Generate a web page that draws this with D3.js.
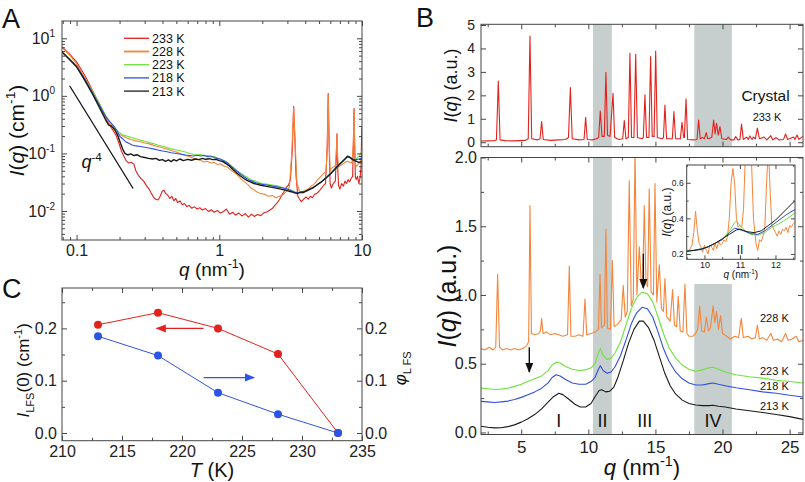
<!DOCTYPE html>
<html><head><meta charset="utf-8">
<script src="https://cdn.jsdelivr.net/npm/d3@7"></script>
<style>body{margin:0;background:#fff}svg{display:block}text{font-family:"Liberation Sans",Arial,sans-serif}</style>
</head><body><script>
// ---------- DATA ----------
const labelsT = ['233 K','228 K','223 K','218 K','213 K'];
const colorsT = ['#e4221c','#f5853a','#6ee23c','#2f4fe0','#1a1a1a'];

// Panel A: SAXS log-log curves [q (nm^-1), I (cm^-1)]
const a233 = [[0.0788,7.2],[0.09,5.2],[0.1,3.9],[0.115,2.2],[0.13,1.2],[0.145,0.7],[0.16,0.4],[0.172,0.3],[0.182,0.24],[0.19,0.2],[0.198,0.15],[0.206,0.11],[0.214,0.09],[0.222,0.075],[0.232,0.068],[0.242,0.07],[0.252,0.065],[0.26,0.05],[0.27,0.042],[0.282,0.037],[0.295,0.033],[0.31,0.027],[0.322,0.024],[0.335,0.02],[0.348,0.017],[0.36,0.016],[0.372,0.0155],[0.385,0.018],[0.398,0.022],[0.41,0.023],[0.422,0.02],[0.435,0.019],[0.45,0.0165],[0.465,0.018],[0.48,0.015],[0.495,0.0165],[0.51,0.014],[0.53,0.015],[0.55,0.0128],[0.57,0.0135],[0.59,0.012],[0.615,0.0125],[0.64,0.0112],[0.67,0.0118],[0.7,0.0108],[0.73,0.0114],[0.76,0.0104],[0.8,0.011],[0.84,0.0098],[0.88,0.0105],[0.92,0.0095],[0.97,0.0102],[1.02,0.0092],[1.07,0.0098],[1.12,0.0108],[1.18,0.0088],[1.24,0.0095],[1.3,0.0085],[1.37,0.0092],[1.44,0.0082],[1.52,0.009],[1.6,0.0078],[1.68,0.0088],[1.76,0.008],[1.85,0.0087],[1.95,0.0083],[2.05,0.0093],[2.15,0.0096],[2.25,0.0103],[2.35,0.011],[2.45,0.0125],[2.55,0.014],[2.65,0.016],[2.75,0.019],[2.85,0.022],[2.95,0.026],[3.05,0.028],[3.15,0.035],[3.25,0.12],[3.32,0.65],[3.38,0.2],[3.45,0.04],[3.55,0.018],[3.65,0.016],[3.75,0.0145],[3.9,0.016],[4.05,0.0175],[4.2,0.016],[4.35,0.018],[4.5,0.017],[4.65,0.0195],[4.8,0.02],[5.0,0.022],[5.2,0.025],[5.4,0.028],[5.55,0.03],[5.7,0.12],[5.8,1.1],[5.88,0.15],[5.98,0.03],[6.1,0.025],[6.3,0.03],[6.5,0.033],[6.6,0.08],[6.67,0.22],[6.75,0.06],[6.85,0.028],[7.0,0.024],[7.2,0.03],[7.4,0.027],[7.6,0.033],[7.8,0.03],[8.0,0.035],[8.2,0.032],[8.4,0.037],[8.6,0.04],[8.72,0.2],[8.8,0.6],[8.88,0.15],[8.98,0.04],[9.1,0.035],[9.3,0.04],[9.5,0.03],[9.7,0.038],[9.85,0.06],[9.95,0.25],[10,0.29]];
const a228 = [[0.0788,7.0],[0.09,5.0],[0.1,3.6],[0.115,2.0],[0.13,1.15],[0.145,0.72],[0.16,0.42],[0.17,0.33],[0.182,0.26],[0.195,0.22],[0.21,0.2],[0.225,0.185],[0.24,0.175],[0.26,0.165],[0.28,0.16],[0.3,0.152],[0.32,0.148],[0.345,0.138],[0.37,0.132],[0.4,0.125],[0.43,0.118],[0.46,0.112],[0.5,0.106],[0.54,0.098],[0.58,0.092],[0.62,0.088],[0.66,0.082],[0.7,0.079],[0.74,0.076],[0.78,0.071],[0.82,0.073],[0.87,0.068],[0.92,0.07],[0.97,0.064],[1.02,0.066],[1.08,0.06],[1.14,0.058],[1.2,0.052],[1.27,0.047],[1.34,0.042],[1.42,0.036],[1.5,0.032],[1.58,0.029],[1.67,0.025],[1.76,0.023],[1.86,0.021],[1.96,0.02],[2.08,0.0195],[2.2,0.018],[2.35,0.0185],[2.5,0.017],[2.65,0.0182],[2.8,0.019],[2.95,0.022],[3.1,0.026],[3.22,0.1],[3.32,0.62],[3.4,0.15],[3.5,0.03],[3.65,0.022],[3.8,0.021],[4.0,0.023],[4.2,0.024],[4.4,0.027],[4.6,0.029],[4.8,0.033],[5.0,0.037],[5.2,0.041],[5.4,0.045],[5.6,0.048],[5.72,0.15],[5.8,1.05],[5.88,0.18],[5.98,0.05],[6.1,0.055],[6.3,0.058],[6.5,0.06],[6.6,0.1],[6.67,0.21],[6.75,0.09],[6.85,0.058],[7.0,0.06],[7.3,0.065],[7.6,0.07],[7.9,0.073],[8.2,0.07],[8.5,0.068],[8.7,0.15],[8.8,0.58],[8.88,0.15],[8.98,0.065],[9.2,0.06],[9.5,0.068],[9.8,0.075],[10,0.085]];
const a223 = [[0.0788,6.0],[0.09,4.3],[0.1,3.2],[0.115,1.9],[0.13,1.15],[0.145,0.72],[0.16,0.45],[0.17,0.36],[0.182,0.29],[0.195,0.24],[0.21,0.21],[0.225,0.2],[0.24,0.19],[0.26,0.18],[0.28,0.17],[0.3,0.163],[0.32,0.155],[0.345,0.148],[0.37,0.14],[0.4,0.133],[0.43,0.126],[0.46,0.12],[0.5,0.115],[0.54,0.11],[0.58,0.106],[0.62,0.1],[0.66,0.097],[0.7,0.094],[0.74,0.096],[0.78,0.09],[0.82,0.092],[0.87,0.087],[0.92,0.088],[0.97,0.083],[1.02,0.08],[1.08,0.075],[1.14,0.07],[1.2,0.062],[1.27,0.056],[1.34,0.05],[1.42,0.045],[1.5,0.041],[1.6,0.037],[1.7,0.034],[1.8,0.033],[1.9,0.031],[2.0,0.03],[2.2,0.029],[2.4,0.028],[2.6,0.027],[2.8,0.025],[3.0,0.024],[3.2,0.023],[3.4,0.0215],[3.6,0.021],[3.8,0.022],[4.0,0.022],[4.3,0.024],[4.6,0.026],[4.9,0.029],[5.2,0.032],[5.5,0.036],[5.8,0.041],[6.1,0.046],[6.5,0.054],[6.9,0.063],[7.3,0.072],[7.7,0.082],[8.0,0.088],[8.3,0.084],[8.7,0.078],[9.1,0.08],[9.5,0.09],[10,0.11]];
const a218 = [[0.0788,5.8],[0.09,4.2],[0.1,3.3],[0.115,1.9],[0.13,1.1],[0.145,0.68],[0.16,0.44],[0.17,0.36],[0.182,0.3],[0.192,0.25],[0.2,0.2],[0.21,0.18],[0.22,0.16],[0.232,0.15],[0.245,0.14],[0.26,0.135],[0.28,0.132],[0.3,0.128],[0.32,0.124],[0.345,0.12],[0.37,0.115],[0.4,0.11],[0.43,0.107],[0.46,0.103],[0.5,0.1],[0.54,0.097],[0.58,0.094],[0.62,0.092],[0.66,0.09],[0.7,0.093],[0.74,0.09],[0.78,0.093],[0.82,0.088],[0.87,0.09],[0.92,0.085],[0.97,0.082],[1.02,0.079],[1.08,0.074],[1.14,0.068],[1.2,0.061],[1.27,0.054],[1.34,0.048],[1.42,0.043],[1.5,0.039],[1.6,0.035],[1.7,0.033],[1.8,0.031],[1.9,0.03],[2.0,0.029],[2.2,0.028],[2.4,0.027],[2.6,0.026],[2.8,0.025],[3.0,0.024],[3.2,0.0225],[3.4,0.021],[3.6,0.021],[3.8,0.0215],[4.0,0.022],[4.3,0.024],[4.6,0.026],[4.9,0.029],[5.2,0.032],[5.5,0.036],[5.8,0.041],[6.1,0.046],[6.5,0.055],[6.9,0.064],[7.3,0.073],[7.7,0.083],[8.0,0.09],[8.3,0.085],[8.7,0.078],[9.1,0.078],[9.5,0.08],[10,0.082]];
const a213 = [[0.0788,5.8],[0.09,4.2],[0.1,3.2],[0.115,1.8],[0.13,1.05],[0.145,0.62],[0.16,0.38],[0.168,0.31],[0.175,0.3],[0.185,0.26],[0.195,0.2],[0.203,0.15],[0.21,0.12],[0.218,0.1],[0.228,0.094],[0.24,0.098],[0.252,0.092],[0.265,0.095],[0.28,0.088],[0.3,0.085],[0.32,0.082],[0.34,0.08],[0.36,0.082],[0.38,0.076],[0.4,0.078],[0.42,0.073],[0.44,0.077],[0.46,0.072],[0.48,0.078],[0.5,0.074],[0.53,0.08],[0.56,0.075],[0.6,0.079],[0.64,0.076],[0.68,0.08],[0.72,0.078],[0.76,0.082],[0.8,0.079],[0.85,0.081],[0.9,0.078],[0.95,0.079],[1.0,0.075],[1.06,0.072],[1.12,0.066],[1.18,0.06],[1.25,0.052],[1.32,0.046],[1.4,0.041],[1.48,0.037],[1.56,0.034],[1.65,0.032],[1.75,0.03],[1.85,0.029],[1.95,0.028],[2.1,0.027],[2.3,0.026],[2.5,0.025],[2.7,0.024],[2.9,0.023],[3.1,0.022],[3.3,0.021],[3.5,0.02],[3.7,0.021],[3.9,0.021],[4.2,0.023],[4.5,0.025],[4.8,0.028],[5.1,0.031],[5.4,0.035],[5.7,0.039],[6.0,0.044],[6.4,0.052],[6.8,0.061],[7.2,0.07],[7.6,0.08],[7.9,0.089],[8.2,0.085],[8.6,0.078],[9.0,0.074],[9.5,0.07],[10,0.072]];
const guideQ = [0.0893, 0.249];
const guideI = [1.5, 0.0246];

// Panel B top: crystal at 233 K
const crystal233 = [[2,0.05],[2.5,0.06],[3.0,0.07],[3.15,0.1],[3.29,2.61],[3.42,0.1],[3.8,0.07],[4.3,0.06],[4.8,0.07],[5.3,0.08],[5.52,0.15],[5.65,4.53],[5.78,0.15],[6.2,0.1],[6.4,0.15],[6.52,0.88],[6.64,0.12],[7.2,0.08],[7.8,0.1],[8.3,0.12],[8.52,0.2],[8.66,2.33],[8.8,0.15],[9.3,0.1],[9.68,0.12],[9.8,1.06],[9.92,0.12],[10.3,0.1],[10.6,0.15],[10.77,0.2],[10.89,1.33],[11.02,0.25],[11.19,0.25],[11.31,2.98],[11.43,0.3],[11.62,0.25],[11.84,2.09],[11.96,0.2],[12.3,0.12],[12.56,0.15],[12.68,0.92],[12.8,0.15],[12.98,0.2],[13.1,3.79],[13.22,0.2],[13.4,0.2],[13.53,3.75],[13.66,0.2],[14.0,0.15],[14.1,0.2],[14.22,2.02],[14.34,0.2],[14.52,0.2],[14.64,3.65],[14.76,0.25],[14.9,0.25],[15.02,3.89],[15.14,0.2],[15.5,0.15],[15.6,0.2],[15.71,1.59],[15.83,0.15],[16.26,0.15],[16.38,1.31],[16.5,0.15],[16.86,0.15],[16.98,0.85],[17.1,0.2],[17.16,0.2],[17.28,1.85],[17.4,0.12],[17.8,0.1],[18.1,0.12],[18.22,0.95],[18.34,0.15],[18.5,0.2],[18.65,0.15],[18.79,0.41],[18.9,0.15],[19.2,0.2],[19.34,0.95],[19.45,0.35],[19.56,0.81],[19.68,0.3],[19.81,0.67],[19.95,0.15],[20.3,0.12],[20.43,0.22],[20.6,0.1],[20.85,0.1],[20.98,0.24],[21.15,0.1],[21.3,0.12],[21.42,0.78],[21.55,0.12],[21.8,0.22],[21.92,0.12],[22.04,0.27],[22.2,0.12],[22.3,0.22],[22.45,0.15],[22.6,0.6],[22.75,0.15],[23.1,0.22],[23.3,0.1],[23.6,0.28],[23.75,0.1],[24.0,0.2],[24.2,0.1],[24.55,0.12],[24.7,0.35],[24.85,0.12],[25.3,0.22],[25.4,0.12],[25.55,0.31],[25.7,0.12],[26,0.25]];

// Panel B bottom: liquid / supercooled curves
const b228 = [[2,0.61],[2.3,0.6],[2.6,0.62],[2.9,0.6],[3.1,0.62],[3.24,1.15],[3.38,0.62],[3.6,0.6],[3.9,0.61],[4.2,0.6],[4.5,0.61],[4.8,0.6],[5.1,0.61],[5.4,0.63],[5.55,0.66],[5.65,1.65],[5.76,0.72],[6.0,0.71],[6.3,0.72],[6.43,0.74],[6.52,0.83],[6.62,0.72],[6.9,0.73],[7.2,0.71],[7.5,0.72],[7.8,0.71],[8.1,0.7],[8.45,0.71],[8.58,1.21],[8.7,0.7],[9.0,0.7],[9.3,0.71],[9.6,0.7],[9.75,0.97],[9.88,0.71],[10.2,0.72],[10.5,0.73],[10.75,0.75],[10.87,1.15],[10.98,0.76],[11.2,0.78],[11.31,1.48],[11.42,0.76],[11.65,0.75],[11.79,1.25],[11.92,0.77],[12.2,0.79],[12.45,0.82],[12.6,1.07],[12.75,0.84],[12.9,0.88],[13.05,1.83],[13.2,0.92],[13.35,0.97],[13.48,2.05],[13.62,1.0],[13.8,1.35],[13.95,1.08],[14.05,1.1],[14.17,1.65],[14.3,1.08],[14.42,1.06],[14.54,1.77],[14.68,1.02],[14.85,1.0],[14.97,1.81],[15.1,0.95],[15.29,1.22],[15.45,0.9],[15.6,0.88],[15.71,1.12],[15.85,0.84],[16.1,0.81],[16.28,1.04],[16.42,0.78],[16.58,0.77],[16.7,0.99],[16.85,0.74],[17.05,0.73],[17.2,1.08],[17.35,0.72],[17.5,0.7],[17.8,0.7],[18.0,0.72],[18.15,0.75],[18.3,0.92],[18.45,0.74],[18.65,0.73],[18.8,0.84],[18.95,0.74],[19.1,0.76],[19.3,0.92],[19.42,0.8],[19.56,0.88],[19.7,0.75],[19.86,0.85],[20.0,0.72],[20.3,0.7],[20.6,0.68],[20.9,0.7],[21.2,0.69],[21.4,0.83],[21.55,0.69],[21.9,0.7],[22.2,0.68],[22.45,0.69],[22.6,0.78],[22.75,0.68],[23.0,0.69],[23.3,0.67],[23.6,0.72],[23.8,0.67],[24.1,0.68],[24.4,0.66],[24.7,0.72],[24.9,0.67],[25.2,0.68],[25.5,0.7],[25.7,0.66],[26,0.67]];
const b223 = [[2,0.322],[2.5,0.318],[3,0.312],[3.5,0.315],[4,0.322],[4.5,0.335],[5,0.35],[5.5,0.37],[6,0.39],[6.5,0.41],[7,0.45],[7.3,0.49],[7.6,0.51],[7.9,0.505],[8.3,0.48],[8.8,0.46],[9.3,0.45],[9.8,0.455],[10.2,0.47],[10.5,0.5],[10.75,0.58],[10.9,0.61],[11.1,0.56],[11.4,0.53],[11.7,0.54],[12,0.58],[12.4,0.66],[12.8,0.78],[13.2,0.9],[13.6,0.98],[14,1.02],[14.4,1.01],[14.8,0.95],[15.2,0.84],[15.6,0.72],[16,0.62],[16.5,0.54],[17,0.49],[17.5,0.46],[18,0.445],[18.5,0.455],[19,0.47],[19.3,0.475],[19.7,0.46],[20.2,0.44],[21,0.42],[22,0.405],[23,0.395],[24,0.38],[25,0.37],[26,0.36]];
const b218 = [[2,0.226],[2.5,0.222],[3,0.218],[3.5,0.222],[4,0.228],[4.5,0.24],[5,0.255],[5.5,0.275],[6,0.295],[6.5,0.32],[7,0.36],[7.3,0.4],[7.6,0.42],[7.9,0.41],[8.3,0.385],[8.8,0.36],[9.3,0.35],[9.8,0.35],[10.2,0.37],[10.5,0.4],[10.75,0.46],[10.9,0.485],[11.1,0.45],[11.4,0.43],[11.7,0.44],[12,0.48],[12.4,0.56],[12.8,0.67],[13.2,0.79],[13.6,0.87],[14,0.91],[14.4,0.9],[14.8,0.84],[15.2,0.73],[15.6,0.61],[16,0.52],[16.5,0.44],[17,0.39],[17.5,0.36],[18,0.345],[18.5,0.345],[19,0.355],[19.3,0.36],[19.7,0.35],[20.2,0.34],[21,0.325],[22,0.31],[23,0.295],[24,0.285],[25,0.27],[26,0.258]];
const b213 = [[2,0.045],[2.5,0.038],[3,0.033],[3.5,0.034],[4,0.042],[4.5,0.055],[5,0.075],[5.5,0.1],[6,0.13],[6.5,0.17],[7,0.22],[7.4,0.26],[7.8,0.285],[8.1,0.275],[8.5,0.245],[9,0.205],[9.4,0.185],[9.8,0.185],[10.2,0.21],[10.5,0.26],[10.8,0.305],[11.0,0.31],[11.3,0.295],[11.6,0.3],[11.9,0.33],[12.2,0.4],[12.6,0.52],[13,0.65],[13.4,0.75],[13.8,0.81],[14.1,0.81],[14.5,0.76],[14.9,0.67],[15.3,0.55],[15.7,0.43],[16.1,0.34],[16.5,0.28],[17,0.235],[17.5,0.21],[18,0.2],[18.5,0.195],[19,0.195],[19.3,0.198],[19.7,0.19],[20.2,0.185],[21,0.17],[22,0.158],[23,0.145],[24,0.13],[25,0.115],[26,0.095]];
const bandsQ = [[10.35, 11.75], [17.9, 20.7]];
const bandTopIV = 1.08;
const romanLabels = ['I','II','III','IV'];
const romanQ = [7.8, 11.05, 14.2, 19.3];
const curveLabelY = [[228, 0.8], [223, 0.42], [218, 0.31], [213, 0.16]];
const arrowsB = [[5.6, 0.62, 0.44], [14.1, 1.3, 1.05]];

// Inset (q 9.5-12.55)
const i228 = [[9.5,0.22],[9.55,0.215],[9.6,0.23],[9.65,0.25],[9.7,0.32],[9.75,0.44],[9.8,0.33],[9.85,0.26],[9.9,0.24],[9.95,0.21],[10.0,0.25],[10.05,0.22],[10.1,0.2],[10.15,0.25],[10.2,0.24],[10.25,0.22],[10.3,0.26],[10.35,0.23],[10.4,0.27],[10.45,0.25],[10.5,0.26],[10.55,0.28],[10.6,0.27],[10.65,0.3],[10.7,0.4],[10.75,0.6],[10.8,0.68],[10.85,0.6],[10.9,0.4],[10.95,0.35],[11.0,0.36],[11.05,0.35],[11.1,0.45],[11.15,0.75],[11.25,0.8],[11.32,0.75],[11.38,0.4],[11.45,0.26],[11.5,0.22],[11.55,0.28],[11.6,0.27],[11.65,0.3],[11.7,0.35],[11.75,0.6],[11.8,0.8],[11.85,0.55],[11.9,0.36],[11.95,0.34],[12.0,0.32],[12.05,0.3],[12.1,0.33],[12.15,0.31],[12.2,0.34],[12.25,0.33],[12.3,0.35],[12.35,0.32],[12.4,0.36],[12.45,0.35],[12.5,0.37],[12.55,0.38]];
const i223 = [[9.5,0.22],[9.7,0.22],[9.9,0.23],[10.1,0.24],[10.3,0.26],[10.5,0.28],[10.7,0.33],[10.85,0.375],[10.9,0.385],[11.0,0.36],[11.15,0.33],[11.3,0.31],[11.5,0.305],[11.7,0.32],[11.9,0.35],[12.1,0.37],[12.3,0.395],[12.55,0.43]];
const i218 = [[9.5,0.215],[9.7,0.22],[9.9,0.228],[10.1,0.24],[10.3,0.26],[10.5,0.28],[10.7,0.32],[10.85,0.345],[10.95,0.34],[11.1,0.33],[11.3,0.315],[11.5,0.31],[11.7,0.33],[11.9,0.36],[12.1,0.39],[12.3,0.42],[12.55,0.45]];
const i213 = [[9.5,0.215],[9.7,0.22],[9.9,0.225],[10.1,0.24],[10.3,0.26],[10.5,0.285],[10.7,0.31],[10.9,0.335],[11.0,0.34],[11.2,0.325],[11.4,0.32],[11.6,0.33],[11.8,0.36],[12.0,0.39],[12.2,0.43],[12.4,0.47],[12.55,0.5]];

// Panel C
const tempC = [213, 218, 223, 228, 233];
const iLFS = [0.207, 0.23, 0.2, 0.151, 0.0];
const phiLFS = [0.185, 0.148, 0.077, 0.036, 0.0];

// ---------- DRAW ----------
const FONT = '"Liberation Sans", Arial, sans-serif';
const svg = d3.select('body').append('svg').attr('width', 805).attr('height', 482);
const defs = svg.append('defs');
function marker(id, color) {
  defs.append('marker').attr('id', id).attr('viewBox', '0 0 10 10').attr('refX', 9).attr('refY', 5)
    .attr('markerWidth', 10).attr('markerHeight', 10).attr('markerUnits', 'userSpaceOnUse').attr('orient', 'auto')
    .append('path').attr('d', 'M0,1 L10,5 L0,9 Z').attr('fill', color);
}
marker('ahK', '#111'); marker('ahR', '#e4221c'); marker('ahB', '#2c55e8');

function rich(t, parts, fs) {
  let shift = 0;
  parts.forEach(p => {
    const target = p.sup ? -0.42 * fs : p.sub ? 0.28 * fs : 0;
    const ts = t.append('tspan').text(p.t).attr('dy', target - shift);
    shift = target;
    if (p.sup || p.sub) ts.attr('font-size', fs * 0.65);
    if (p.i) ts.attr('font-style', 'italic');
  });
  return t;
}
function axis(g, type, scale, values, size, showLabels, fmt, fs, pad) {
  const gen = {bottom: d3.axisBottom, top: d3.axisTop, left: d3.axisLeft, right: d3.axisRight}[type](scale)
    .tickValues(values).tickSizeInner(-size).tickSizeOuter(0).tickPadding(pad)
    .tickFormat(showLabels ? fmt : () => '');
  g.call(gen);
  g.attr('font-family', FONT);
  g.select('.domain').remove();
  g.selectAll('.tick line').attr('stroke', '#333').attr('stroke-width', 0.9);
  g.selectAll('.tick text').attr('font-size', fs).attr('fill', '#222');
  return g;
}
function frame(x0, x1, y0, y1) {
  svg.append('rect').attr('x', x0).attr('y', y0).attr('width', x1 - x0).attr('height', y1 - y0)
    .attr('fill', 'none').attr('stroke', '#444').attr('stroke-width', 1);
}
function clip(id, x0, x1, y0, y1) {
  defs.append('clipPath').attr('id', id).append('rect').attr('x', x0).attr('y', y0).attr('width', x1 - x0).attr('height', y1 - y0);
}

// ===== Panel A =====
const A = {l: 62, r: 362, t: 21, b: 240};
const xA = d3.scaleLog().domain([0.079, 10]).range([A.l, A.r]);
const yA = d3.scaleLog().domain([0.00313, 20]).range([A.b, A.t]);
clip('clipA', A.l, A.r, A.t, A.b);
const xAmaj = [0.1, 1, 10];
const xAmin = [0.08, 0.09, 0.2, 0.3, 0.4, 0.5, 0.6, 0.7, 0.8, 0.9, 2, 3, 4, 5, 6, 7, 8, 9];
const yAmaj = [0.01, 0.1, 1, 10];
const yAmin = [0.004, 0.005, 0.006, 0.007, 0.008, 0.009, 0.02, 0.03, 0.04, 0.05, 0.06, 0.07, 0.08, 0.09, 0.2, 0.3, 0.4, 0.5, 0.6, 0.7, 0.8, 0.9, 2, 3, 4, 5, 6, 7, 8, 9];
const lineA = d3.line().x(d => xA(d[0])).y(d => yA(d[1]));
const gA = svg.append('g').attr('clip-path', 'url(#clipA)');
[a233, a228, a223, a218, a213].forEach((s, i) => {
  gA.append('path').datum(s).attr('d', lineA).attr('fill', 'none').attr('stroke', colorsT[i])
    .attr('stroke-width', i === 4 ? 1.4 : 1.1).attr('stroke-linejoin', 'round');
});
svg.append('path').datum(guideQ.map((q, i) => [q, guideI[i]])).attr('d', lineA)
  .attr('stroke', '#111').attr('stroke-width', 1.3).attr('fill', 'none');
rich(svg.append('text').attr('x', xA(0.108)).attr('y', yA(0.055)).attr('font-size', 18).attr('fill', '#111'),
  [{t: 'q', i: true}, {t: '-4', sup: true}], 18);
axis(svg.append('g').attr('transform', `translate(0,${A.b})`), 'bottom', xA, xAmaj, 5, true, d => d3.format('')(d), 16, 5);
axis(svg.append('g').attr('transform', `translate(0,${A.b})`), 'bottom', xA, xAmin, 3, false, null, 16, 5);
axis(svg.append('g').attr('transform', `translate(0,${A.t})`), 'top', xA, xAmaj, 5, false, null, 16, 6);
axis(svg.append('g').attr('transform', `translate(0,${A.t})`), 'top', xA, xAmin, 3, false, null, 16, 6);
const gyA = axis(svg.append('g').attr('transform', `translate(${A.l},0)`), 'left', yA, yAmaj, 5, true, () => '10', 16, 7);
gyA.selectAll('.tick text').each(function(d) {
  d3.select(this).append('tspan').attr('dy', -7).attr('font-size', 10).text(Math.round(Math.log10(d)));
});
axis(svg.append('g').attr('transform', `translate(${A.l},0)`), 'left', yA, yAmin, 3, false, null, 16, 6);
axis(svg.append('g').attr('transform', `translate(${A.r},0)`), 'right', yA, yAmaj, 5, false, null, 16, 6);
axis(svg.append('g').attr('transform', `translate(${A.r},0)`), 'right', yA, yAmin, 3, false, null, 16, 6);
frame(A.l, A.r, A.t, A.b);
// legend
const legA = svg.append('g');
labelsT.forEach((lab, i) => {
  const y = 38.3 + i * 13.2;
  legA.append('line').attr('x1', 124).attr('x2', 149).attr('y1', y).attr('y2', y)
    .attr('stroke', colorsT[i]).attr('stroke-width', i === 1 ? 1.8 : 1.3);
  legA.append('text').attr('x', 152).attr('y', y + 4.5).attr('font-size', 12.5).attr('fill', '#111').text(lab);
});
rich(svg.append('text').attr('x', (A.l + A.r) / 2).attr('y', 276).attr('text-anchor', 'middle').attr('font-size', 19).attr('fill', '#111'),
  [{t: 'q', i: true}, {t: ' (nm'}, {t: '-1', sup: true}, {t: ')'}], 19);
rich(svg.append('text').attr('transform', `translate(24,${(A.t + A.b) / 2}) rotate(-90)`).attr('text-anchor', 'middle').attr('font-size', 21).attr('fill', '#111'),
  [{t: 'I', i: true}, {t: '('}, {t: 'q', i: true}, {t: ') (cm'}, {t: '-1', sup: true}, {t: ')'}], 21);
svg.append('text').attr('x', 2).attr('y', 28).attr('font-size', 27).attr('fill', '#111').text('A');

// ===== Panel C =====
const C = {l: 62, r: 362, t: 288, b: 440.7};
const xC = d3.scaleLinear().domain([210, 235]).range([C.l, C.r]);
const yC = d3.scaleLinear().domain([-0.0147, 0.2772]).range([C.b, C.t]);
const yC2 = d3.scaleLinear().domain([-0.0147, 0.2772]).range([C.b, C.t]);
const xCmaj = [210, 215, 220, 225, 230, 235], xCmin = [212.5, 217.5, 222.5, 227.5, 232.5];
const yCmaj = [0, 0.1, 0.2], yCmin = [0.05, 0.15, 0.25];
axis(svg.append('g').attr('transform', `translate(0,${C.b})`), 'bottom', xC, xCmaj, 5, true, d3.format('d'), 16, 5);
axis(svg.append('g').attr('transform', `translate(0,${C.b})`), 'bottom', xC, xCmin, 3, false, null, 16, 5);
axis(svg.append('g').attr('transform', `translate(0,${C.t})`), 'top', xC, xCmaj, 5, false, null, 16, 5);
axis(svg.append('g').attr('transform', `translate(0,${C.t})`), 'top', xC, xCmin, 3, false, null, 16, 5);
axis(svg.append('g').attr('transform', `translate(${C.l},0)`), 'left', yC, yCmaj, 5, true, d3.format('.1f'), 16, 5);
axis(svg.append('g').attr('transform', `translate(${C.l},0)`), 'left', yC, yCmin, 3, false, null, 16, 5);
axis(svg.append('g').attr('transform', `translate(${C.r},0)`), 'right', yC2, yCmaj, 5, true, d3.format('.1f'), 16, 3);
axis(svg.append('g').attr('transform', `translate(${C.r},0)`), 'right', yC2, yCmin, 3, false, null, 16, 3);
frame(C.l, C.r, C.t, C.b);
const lineC1 = d3.line().x((d, i) => xC(tempC[i])).y(d => yC(d));
const lineC2 = d3.line().x((d, i) => xC(tempC[i])).y(d => yC2(d));
svg.append('path').datum(iLFS).attr('d', lineC1).attr('fill', 'none').attr('stroke', '#e4221c').attr('stroke-width', 1);
svg.append('path').datum(phiLFS).attr('d', lineC2).attr('fill', 'none').attr('stroke', '#2c55e8').attr('stroke-width', 1);
svg.selectAll('.cR').data(iLFS).join('circle').attr('cx', (d, i) => xC(tempC[i])).attr('cy', d => yC(d)).attr('r', 4).attr('fill', '#e4221c');
svg.selectAll('.cB').data(phiLFS).join('circle').attr('cx', (d, i) => xC(tempC[i])).attr('cy', d => yC2(d)).attr('r', 4).attr('fill', '#2c55e8');
svg.append('line').attr('x1', xC(221.8)).attr('x2', xC(217.9)).attr('y1', yC(0.2)).attr('y2', yC(0.2))
  .attr('stroke', '#e4221c').attr('stroke-width', 1.3).attr('marker-end', 'url(#ahR)');
svg.append('line').attr('x1', xC(221.8)).attr('x2', xC(226.0)).attr('y1', yC(0.106)).attr('y2', yC(0.106))
  .attr('stroke', '#2c55e8').attr('stroke-width', 1.3).attr('marker-end', 'url(#ahB)');
rich(svg.append('text').attr('x', (C.l + C.r) / 2).attr('y', 477).attr('text-anchor', 'middle').attr('font-size', 20).attr('fill', '#111'),
  [{t: 'T', i: true}, {t: ' (K)'}], 20);
rich(svg.append('text').attr('transform', `translate(29,${(C.t + C.b) / 2 + 6}) rotate(-90)`).attr('text-anchor', 'middle').attr('font-size', 17).attr('fill', '#111'),
  [{t: 'I', i: true}, {t: 'LFS', sub: true}, {t: '(0) (cm'}, {t: '-1', sup: true}, {t: ')'}], 17);
rich(svg.append('text').attr('transform', `translate(406,${(C.t + C.b) / 2 + 4}) rotate(-90)`).attr('text-anchor', 'middle').attr('font-size', 17).attr('fill', '#111'),
  [{t: 'φ', i: true}, {t: 'L FS', sub: true}], 17);
svg.append('text').attr('x', 2).attr('y', 298).attr('font-size', 27).attr('fill', '#111').text('C');

// ===== Panel B top =====
const BT = {l: 481, r: 803, t: 24.3, b: 146.7};
const BB = {l: 481, r: 803, t: 157.5, b: 434.5};
const xB = d3.scaleLinear().domain([2, 26]).range([BT.l, BT.r]);
const yBt = d3.scaleLinear().domain([-0.19, 5.03]).range([BT.b, BT.t]);
const yBb = d3.scaleLinear().domain([-0.015, 2.0]).range([BB.b, BB.t]);
const xBmaj = [5, 10, 15, 20, 25], xBmin = [2.5, 7.5, 12.5, 17.5, 22.5];
const bandFill = '#c6cece';
bandsQ.forEach(b => {
  svg.append('rect').attr('x', xB(b[0])).attr('width', xB(b[1]) - xB(b[0])).attr('y', BT.t).attr('height', BT.b - BT.t).attr('fill', bandFill);
});
svg.append('rect').attr('x', xB(bandsQ[0][0])).attr('width', xB(bandsQ[0][1]) - xB(bandsQ[0][0])).attr('y', BB.t).attr('height', BB.b - BB.t).attr('fill', bandFill);
svg.append('rect').attr('x', xB(bandsQ[1][0])).attr('width', xB(bandsQ[1][1]) - xB(bandsQ[1][0])).attr('y', yBb(bandTopIV)).attr('height', BB.b - yBb(bandTopIV)).attr('fill', bandFill);

clip('clipBT', BT.l, BT.r, BT.t, BT.b);
clip('clipBB', BB.l, BB.r, BB.t, BB.b);
const lineBT = d3.line().x(d => xB(d[0])).y(d => yBt(d[1]));
const lineBB = d3.line().x(d => xB(d[0])).y(d => yBb(d[1]));
svg.append('g').attr('clip-path', 'url(#clipBT)').append('path').datum(crystal233).attr('d', lineBT)
  .attr('fill', 'none').attr('stroke', '#e4221c').attr('stroke-width', 1.1).attr('stroke-linejoin', 'round');
axis(svg.append('g').attr('transform', `translate(0,${BT.b})`), 'bottom', xB, xBmaj, 5, false, null, 14, 5);
axis(svg.append('g').attr('transform', `translate(0,${BT.b})`), 'bottom', xB, xBmin, 3, false, null, 14, 5);
axis(svg.append('g').attr('transform', `translate(0,${BT.t})`), 'top', xB, xBmaj, 5, false, null, 14, 5);
axis(svg.append('g').attr('transform', `translate(0,${BT.t})`), 'top', xB, xBmin, 3, false, null, 14, 5);
axis(svg.append('g').attr('transform', `translate(${BT.l},0)`), 'left', yBt, [0, 1, 2, 3, 4, 5], 5, true, d3.format('d'), 14, 6);
axis(svg.append('g').attr('transform', `translate(${BT.r},0)`), 'right', yBt, [0, 1, 2, 3, 4, 5], 5, false, null, 14, 6);
frame(BT.l, BT.r, BT.t, BT.b);
svg.append('text').attr('x', 765.5).attr('y', 100.5).attr('text-anchor', 'middle').attr('font-size', 15.5).attr('fill', '#111').text('Crystal');
svg.append('text').attr('x', 767).attr('y', 121).attr('text-anchor', 'middle').attr('font-size', 11).attr('fill', '#111').text('233 K');
rich(svg.append('text').attr('transform', `translate(457,${(BT.t + BT.b) / 2}) rotate(-90)`).attr('text-anchor', 'middle').attr('font-size', 18).attr('fill', '#111'),
  [{t: 'I', i: true}, {t: '('}, {t: 'q', i: true}, {t: ') (a.u.)'}], 18);
svg.append('text').attr('x', 416).attr('y', 27).attr('font-size', 27).attr('fill', '#111').text('B');

// ===== Panel B bottom =====
const gBB = svg.append('g').attr('clip-path', 'url(#clipBB)');
[b228, b223, b218, b213].forEach((s, i) => {
  gBB.append('path').datum(s).attr('d', lineBB).attr('fill', 'none').attr('stroke', colorsT[i + 1])
    .attr('stroke-width', 1.1).attr('stroke-linejoin', 'round');
});
axis(svg.append('g').attr('transform', `translate(0,${BB.b})`), 'bottom', xB, xBmaj, 5, true, d3.format('d'), 17, 6);
axis(svg.append('g').attr('transform', `translate(0,${BB.b})`), 'bottom', xB, xBmin, 3, false, null, 17, 6);
axis(svg.append('g').attr('transform', `translate(0,${BB.t})`), 'top', xB, xBmaj, 5, false, null, 17, 8);
axis(svg.append('g').attr('transform', `translate(0,${BB.t})`), 'top', xB, xBmin, 3, false, null, 17, 8);
axis(svg.append('g').attr('transform', `translate(${BB.l},0)`), 'left', yBb, [0, 0.5, 1, 1.5, 2], 5, true, d3.format('.1f'), 16, 4);
axis(svg.append('g').attr('transform', `translate(${BB.l},0)`), 'left', yBb, [0.25, 0.75, 1.25, 1.75], 3, false, null, 16, 4);
axis(svg.append('g').attr('transform', `translate(${BB.r},0)`), 'right', yBb, [0, 0.5, 1, 1.5, 2], 5, false, null, 16, 4);
axis(svg.append('g').attr('transform', `translate(${BB.r},0)`), 'right', yBb, [0.25, 0.75, 1.25, 1.75], 3, false, null, 16, 4);
frame(BB.l, BB.r, BB.t, BB.b);
romanLabels.forEach((r, i) => {
  svg.append('text').attr('x', xB(romanQ[i])).attr('y', yBb(0.04)).attr('text-anchor', 'middle').attr('font-size', 18).attr('fill', '#111').text(r);
});
curveLabelY.forEach(c => {
  svg.append('text').attr('x', 760).attr('y', yBb(c[1])).attr('font-size', 11).attr('fill', '#111').text(c[0] + ' K');
});
arrowsB.forEach(a => {
  svg.append('line').attr('x1', xB(a[0])).attr('x2', xB(a[0])).attr('y1', yBb(a[1])).attr('y2', yBb(a[2]))
    .attr('stroke', '#111').attr('stroke-width', 1.4).attr('marker-end', 'url(#ahK)');
});
rich(svg.append('text').attr('x', (BB.l + BB.r) / 2).attr('y', 475).attr('text-anchor', 'middle').attr('font-size', 22).attr('fill', '#111'),
  [{t: 'q', i: true}, {t: ' (nm'}, {t: '-1', sup: true}, {t: ')'}], 22);
rich(svg.append('text').attr('transform', `translate(456,${(BB.t + BB.b) / 2}) rotate(-90)`).attr('text-anchor', 'middle').attr('font-size', 25).attr('fill', '#111'),
  [{t: 'I', i: true}, {t: '('}, {t: 'q', i: true}, {t: ') (a.u.)'}], 25);

// ===== Inset =====
const IN = {l: 686.7, r: 795, t: 165, b: 259.3};
const xI = d3.scaleLinear().domain([9.5, 12.55]).range([IN.l, IN.r]);
const yI = d3.scaleLinear().domain([0.17, 0.70]).range([IN.b, IN.t]);
svg.append('rect').attr('x', IN.l).attr('y', IN.t).attr('width', IN.r - IN.l).attr('height', IN.b - IN.t).attr('fill', '#fff');
clip('clipI', IN.l, IN.r, IN.t, IN.b);
const lineI = d3.line().x(d => xI(d[0])).y(d => yI(d[1]));
const gI = svg.append('g').attr('clip-path', 'url(#clipI)');
[i228, i223, i218, i213].forEach((s, i) => {
  gI.append('path').datum(s).attr('d', lineI).attr('fill', 'none').attr('stroke', colorsT[i + 1]).attr('stroke-width', 1);
});
axis(svg.append('g').attr('transform', `translate(0,${IN.b})`), 'bottom', xI, [10, 11, 12], 4, true, d3.format('d'), 9, 2);
axis(svg.append('g').attr('transform', `translate(0,${IN.b})`), 'bottom', xI, [9.5, 10.5, 11.5, 12.5], 2, false, null, 9, 2);
axis(svg.append('g').attr('transform', `translate(0,${IN.t})`), 'top', xI, [10, 11, 12], 4, false, null, 9, 2);
axis(svg.append('g').attr('transform', `translate(0,${IN.t})`), 'top', xI, [9.5, 10.5, 11.5, 12.5], 2, false, null, 9, 2);
axis(svg.append('g').attr('transform', `translate(${IN.l},0)`), 'left', yI, [0.2, 0.4, 0.6], 4, true, d3.format('.1f'), 8.5, 3);
axis(svg.append('g').attr('transform', `translate(${IN.l},0)`), 'left', yI, [0.3, 0.5], 2, false, null, 8.5, 3);
axis(svg.append('g').attr('transform', `translate(${IN.r},0)`), 'right', yI, [0.2, 0.4, 0.6], 4, false, null, 8.5, 3);
axis(svg.append('g').attr('transform', `translate(${IN.r},0)`), 'right', yI, [0.3, 0.5], 2, false, null, 8.5, 3);
frame(IN.l, IN.r, IN.t, IN.b);
svg.append('text').attr('x', xI(11.0)).attr('y', yI(0.2)).attr('text-anchor', 'middle').attr('font-size', 12).attr('fill', '#111').text('II');
rich(svg.append('text').attr('x', (IN.l + IN.r) / 2).attr('y', 278).attr('text-anchor', 'middle').attr('font-size', 10).attr('fill', '#111'),
  [{t: 'q', i: true}, {t: ' (nm'}, {t: '-1', sup: true}, {t: ')'}], 10);
rich(svg.append('text').attr('transform', `translate(671,${(IN.t + IN.b) / 2}) rotate(-90)`).attr('text-anchor', 'middle').attr('font-size', 12).attr('fill', '#111'),
  [{t: 'I', i: true}, {t: '('}, {t: 'q', i: true}, {t: ') (a.u.)'}], 12);
</script></body></html>
